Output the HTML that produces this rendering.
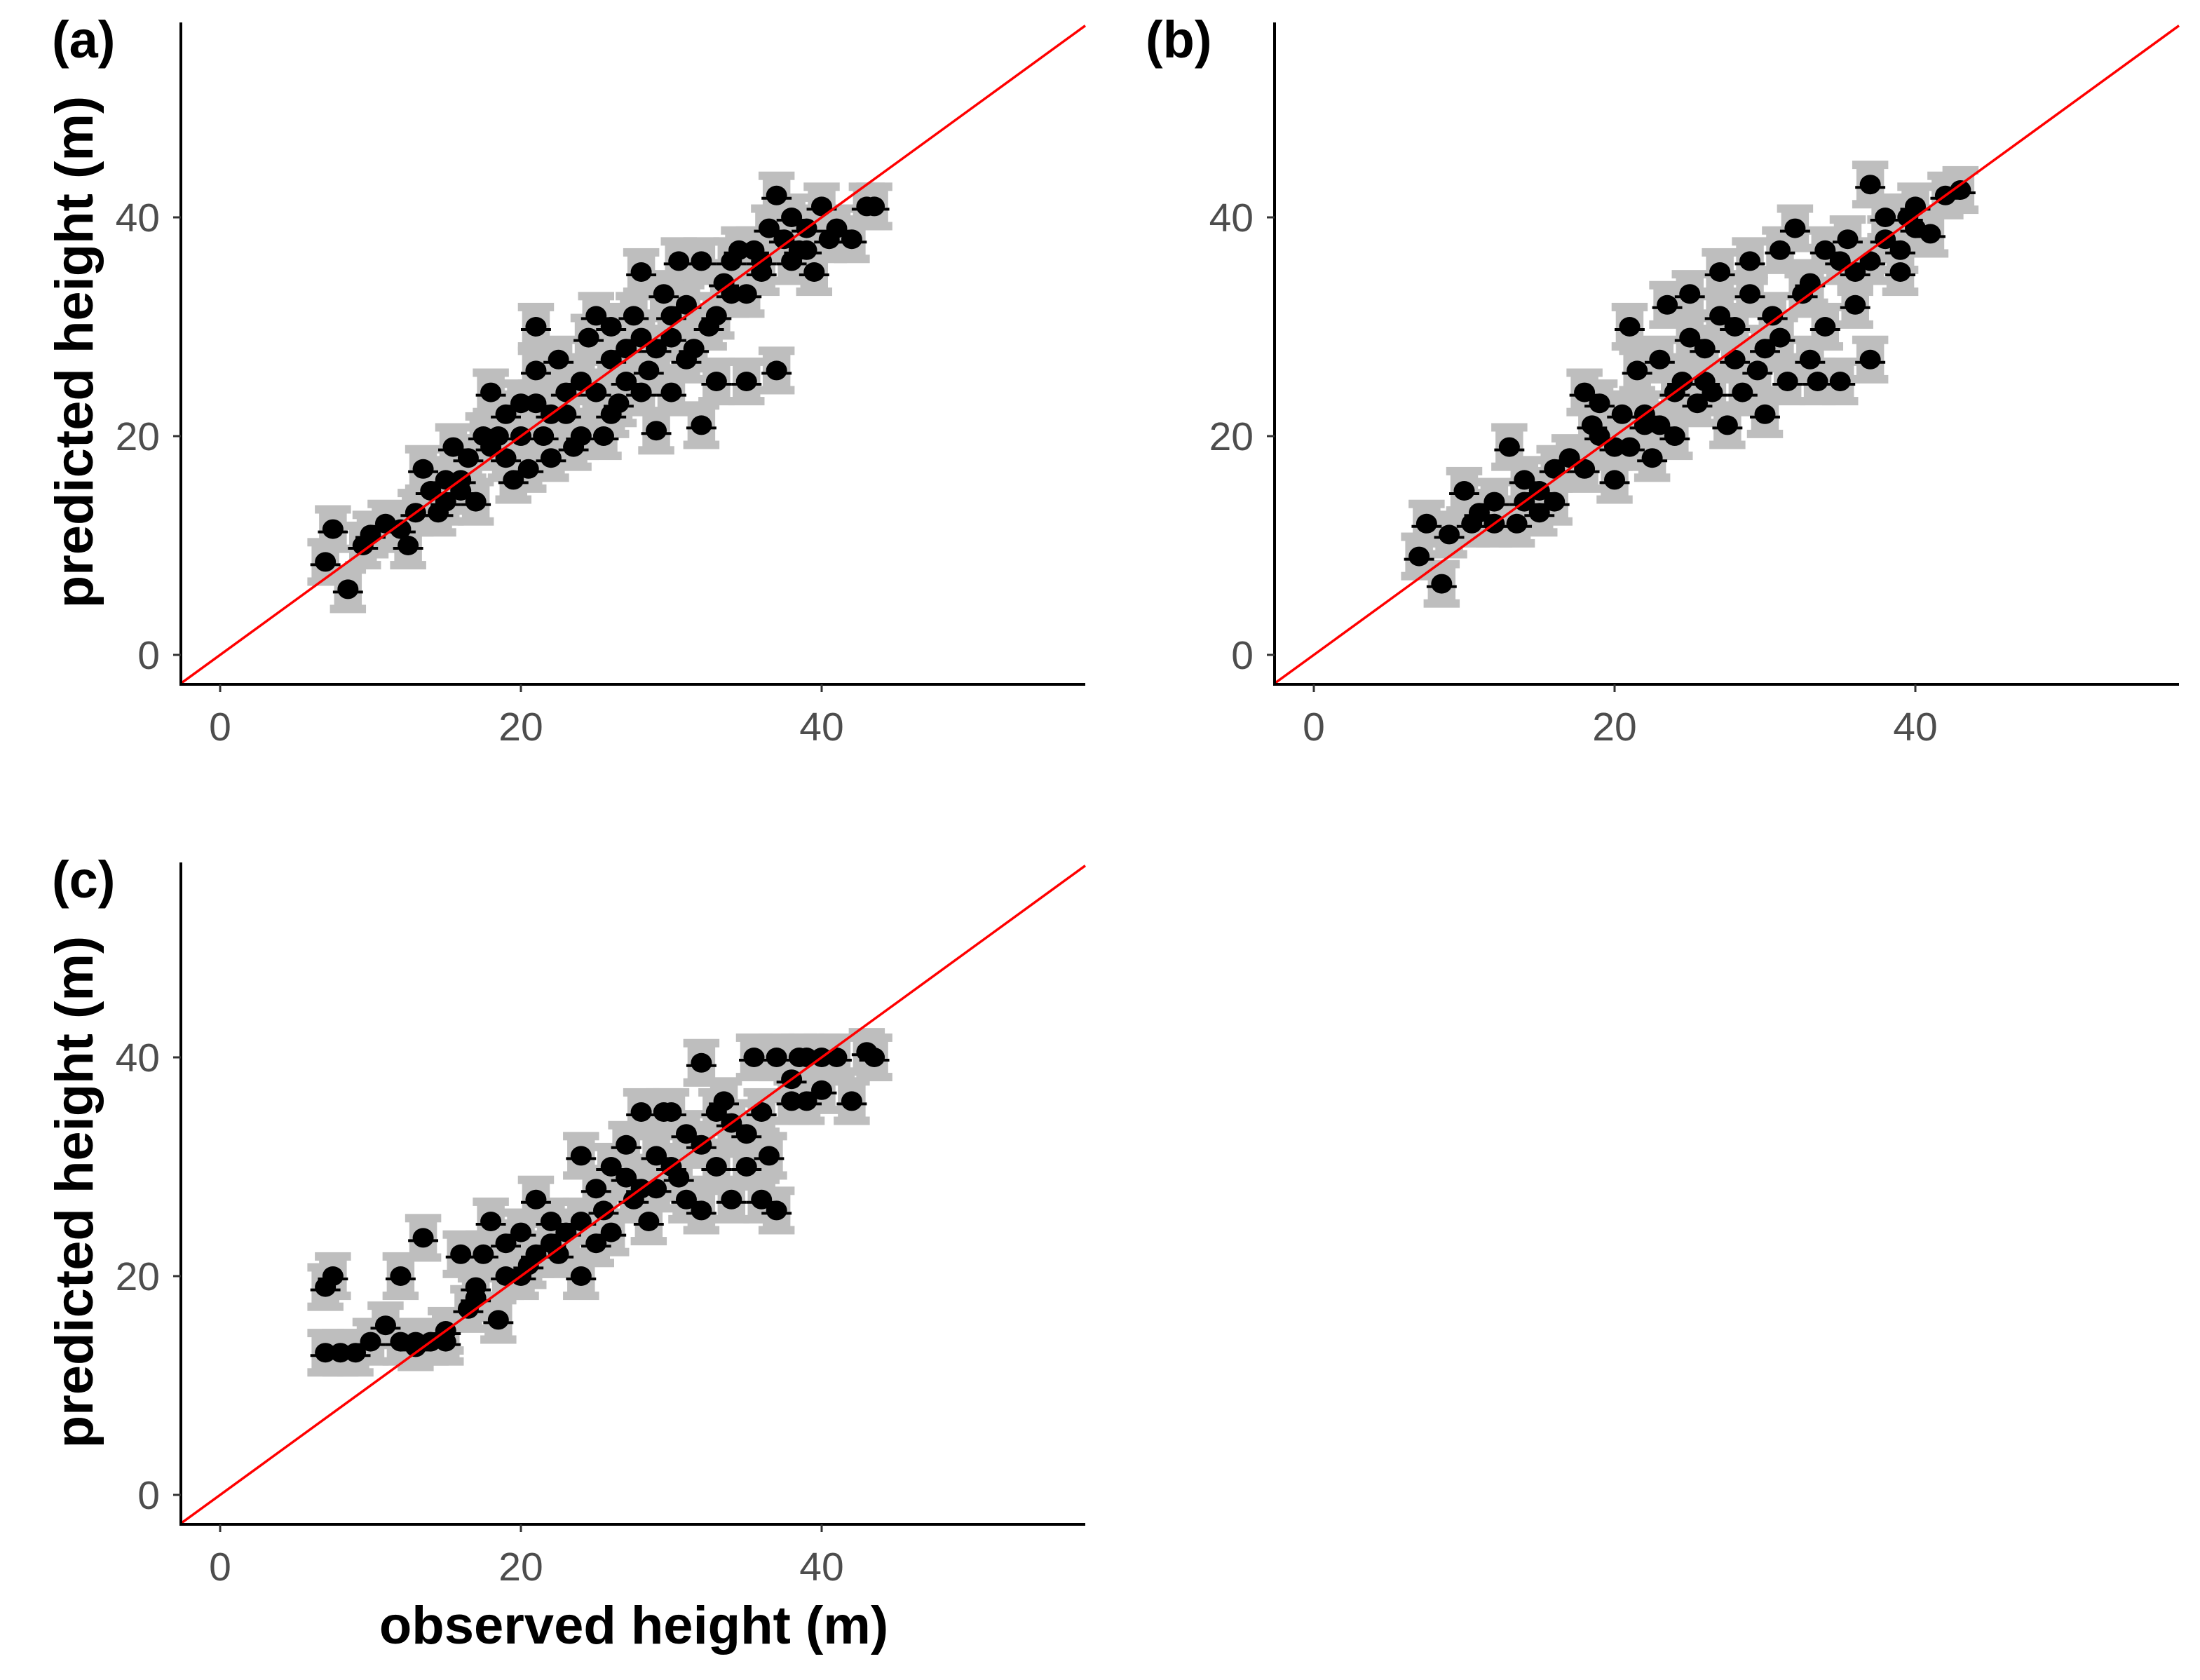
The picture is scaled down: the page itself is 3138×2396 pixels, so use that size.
<!DOCTYPE html>
<html><head><meta charset="utf-8">
<style>
html,body{margin:0;padding:0;background:#fff;}
svg{display:block;}
text{font-family:"Liberation Sans",Arial,sans-serif;}
</style></head>
<body>
<svg id="chart" width="3138" height="2396" viewBox="0 0 3138 2396" xmlns="http://www.w3.org/2000/svg">
<rect width="3138" height="2396" fill="#fff"/>
<g id="root"></g>
</svg>
<script>
const ticks = [0, 20, 40];
const tickLabels = ["0", "20", "40"];
const panelLabels = ["(a)", "(b)", "(c)"];
const errY = 1.8;
const obsA = [7.5,7,8.5,9.5,10,11,12,12.5,13,13.5,14,14.5,15,15.5,16,16.5,17,17.5,18,18.5,19,19.5,20,20.5,21,21,21.5,22,22.5,23,23.5,24,24.5,25,25.5,26,26.5,27,27.5,28,28.5,29,29.5,30,30.5,31,31.5,32,32,32.5,33,33.5,34,34.5,35,35.5,36,36.5,37,37,37.5,38,38.5,39,39.5,40,40.5,41,42,43,43.5,25,26,27,28,29,30,31,33,35,36,22,23,19,18,16,15,24,20,21,26,28,30,34,38,39];
const predA = [11.5,8.5,6,10,11,12,11.5,10,13,17,15,13,14,19,16,18,14,20,24,20,22,16,23,17,30,26,20,18,27,22,19,25,29,31,20,27,23,28,31,35,26,20.5,33,24,36,27,28,21,36,30,25,34,33,37,25,37,35,39,26,42,38,40,37,39,35,41,38,39,38,41,41,24,30,25,29,28,31,32,31,33,36,22,24,18,19,15,16,20,20,23,22,24,29,36,36,37];
const obsB = [8.5,7.5,7,9,10,10.5,11,12,13,13.5,14,15,16,17,18,18.5,19,20,20.5,21,21.5,22,22.5,23,23.5,24,24.5,25,25.5,26,26.5,27,27.5,28,28.5,29,29.5,30,30.5,31,31.5,32,32.5,33,33.5,34,35,35.5,36,37,37,38,39,39.5,40,41,42,43,36,34,30,28,26,24,22,20,18,16,14,12,25,27,29,31,33,35,38,39,40,19,21,23,37,15];
const predB = [6.5,12,9,11,15,12,13,14,19,12,16,15,17,18,24,21,20,16,22,30,26,22,18,27,32,20,25,33,23,28,24,35,21,30,24,36,26,22,31,37,25,39,33,27,25,37,25,38,35,27,43,40,35,40,41,38.5,42,42.5,32,30,28,27,25,24,21,19,17,14,14,12,29,31,33,29,34,36,38,37,39,23,19,21,36,13];
const obsC = [7,7.5,7,8,9,10,11,12,12,13,13.5,14,15,16,16.5,17,17.5,18,18.5,19,20,20.5,21,22,22.5,23,24,24,25,25.5,26,27,27.5,28,28.5,29,29.5,30,30.5,31,32,32,33,33.5,34,35,35.5,36,36.5,37,37,38,38.5,39,40,41,42,43,43.5,20,22,24,26,28,30,32,34,36,38,27,29,31,33,25,21,19,17,15,13,35,39,40];
const predC = [19,20,13,13,13,14,15.5,20,14,14,23.5,14,14,22,17,19,22,25,16,23,24,21,27,25,22,24,20,31,28,26,30,32,27,35,25,28,35,35,29,33,39.5,26,30,36,27,33,40,27,31,26,40,36,40,40,37,40,36,40.5,40,20,23,25,24,28,30,32,34,35,38,29,31,27,35,23,22,20,18,15,13.5,30,36,40];

const NS = "http://www.w3.org/2000/svg";
const root = document.getElementById("root");
function mk(tag, attrs, parent){
  const e = document.createElementNS(NS, tag);
  for (const k in attrs) e.setAttribute(k, attrs[k]);
  (parent||root).appendChild(e);
  return e;
}
const XS = 21.45, YS = 15.6;
const panels = [
  {dx:0, dy:0, obs:obsA, pred:predA, name:"panel-a"},
  {dx:1560, dy:0, obs:obsB, pred:predB, name:"panel-b"},
  {dx:0, dy:1198, obs:obsC, pred:predC, name:"panel-c"}
];
panels.forEach((p, pi) => {
  const g = mk("g", {});
  
  
  const sx = v => 314 + p.dx + v*XS;
  const sy = v => 934 + p.dy - v*YS;
  const L = 258 + p.dx, R = 1548 + p.dx, T = 32 + p.dy, B = 976 + p.dy;
  const pts = mk("g", {}, g);
  
  
  const cw = 2.4*XS;
  for (let i = 0; i < p.obs.length; i++) {
    const x = sx(p.obs[i]), y = sy(p.pred[i]);
    const ytop = sy(p.pred[i] + errY), ybot = sy(p.pred[i] - errY);
    const bar = mk("rect", {x:x-cw/2+6, y:ytop, width:cw-12, height:ybot-ytop, fill:"#bebebe"}, pts);
    
    
    const c1 = mk("rect", {x:x-cw/2, y:ytop-6, width:cw, height:12, fill:"#bebebe"}, pts);
    
    
    const c2 = mk("rect", {x:x-cw/2, y:ybot-6, width:cw, height:12, fill:"#bebebe"}, pts);
    
    
  }
  for (let i = 0; i < p.obs.length; i++) {
    const x = sx(p.obs[i]), y = sy(p.pred[i]);
    const h = mk("line", {x1:x-1.0*XS, x2:x+1.0*XS, y1:y+4, y2:y+4, stroke:"#000", "stroke-width":4}, pts);
    
    
    const d = mk("ellipse", {cx:x, cy:y, rx:15, ry:14, fill:"#000"}, pts);
    
    
  }
  const lo = (L - 314 - p.dx)/XS, hi = (R - 314 - p.dx)/XS;
  const ln = mk("line", {x1:sx(lo), y1:sy(lo), x2:sx(hi), y2:sy(hi), stroke:"#ff0000", "stroke-width":3.5}, g);
  
  
  const ya = mk("line", {x1:L, x2:L, y1:T, y2:B+2, stroke:"#000", "stroke-width":4}, g);
  
  
  const xa = mk("line", {x1:L-2, x2:R, y1:B, y2:B, stroke:"#000", "stroke-width":4}, g);
  
  
  ticks.forEach((t, ti) => {
    const xt = mk("line", {x1:sx(t), x2:sx(t), y1:B, y2:B+11, stroke:"#333", "stroke-width":3}, g);
    
    
    const xl = mk("text", {x:sx(t), y:B+80, "text-anchor":"middle", "font-size":57, fill:"#4d4d4d"}, g);
    xl.textContent = tickLabels[ti];
    
    
    const yt = mk("line", {x1:L-11, x2:L, y1:sy(t), y2:sy(t), stroke:"#333", "stroke-width":3}, g);
    
    
    const yl = mk("text", {x:L-30, y:sy(t)+20, "text-anchor":"end", "font-size":57, fill:"#4d4d4d"}, g);
    yl.textContent = tickLabels[ti];
    
    
  });
  const pl = mk("text", {x:74 + p.dx, y:82 + p.dy, "font-size":74, "font-weight":"bold", fill:"#000"}, g);
  pl.textContent = panelLabels[pi];
  
  
  if (p.dx === 0) {
    const yt = mk("text", {x:0, y:0, "text-anchor":"middle", "font-size":76, "font-weight":"bold", fill:"#000",
      transform:`translate(132,${502 + p.dy}) rotate(-90)`}, g);
    yt.textContent = "predicted height (m)";
    
    
  }
});
const xt = mk("text", {x:904, y:2344, "text-anchor":"middle", "font-size":76, "font-weight":"bold", fill:"#000"});
xt.textContent = "observed height (m)";


</script>
</body></html>
